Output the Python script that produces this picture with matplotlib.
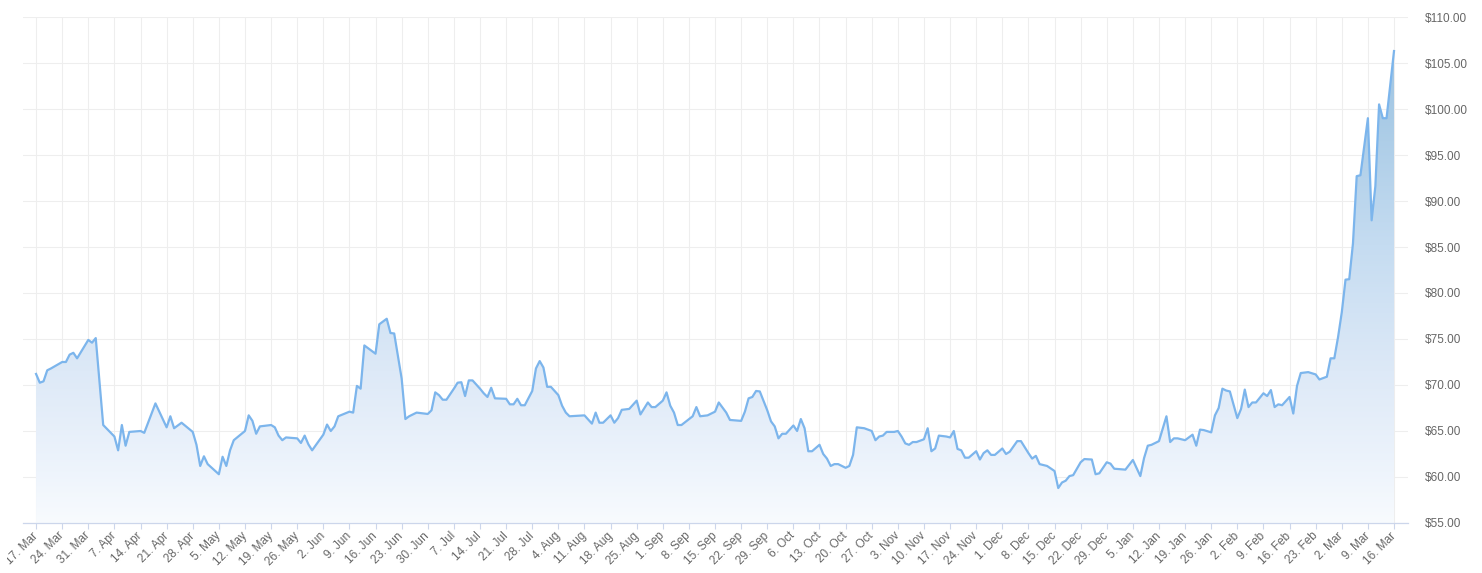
import matplotlib
matplotlib.use('Agg')
import matplotlib.pyplot as plt
import matplotlib.dates as mdates
from matplotlib.colors import LinearSegmentedColormap
from matplotlib.transforms import Bbox
import numpy as np
import pandas as pd

# days after 17 Mar 2025 and the closing price on that day
day_offsets = [
    0, 1, 2, 3, 4, 7, 8, 9, 10, 11, 14, 15, 16, 18, 21, 22, 23, 24, 25, 28,
    29, 32, 35, 36, 37, 39, 42, 43, 44, 45, 46, 49, 50, 51, 52, 53, 56, 57, 58, 59,
    60, 63, 64, 65, 66, 67, 70, 71, 72, 73, 74, 77, 78, 79, 80, 81, 84, 85, 86, 87,
    88, 91, 92, 94, 95, 96, 98, 99, 100, 102, 105, 106, 107, 108, 109, 110, 112, 113, 114, 115,
    116, 117, 119, 120, 121, 122, 123, 126, 127, 128, 129, 130, 131, 133, 134, 135, 136, 137, 138, 140,
    141, 142, 143, 147, 149, 150, 151, 152, 154, 155, 156, 157, 159, 161, 162, 164, 165, 166, 168, 169,
    170, 171, 172, 173, 176, 177, 178, 180, 182, 183, 185, 186, 189, 190, 191, 192, 193, 194, 196, 197,
    198, 199, 200, 201, 203, 204, 205, 206, 207, 208, 210, 211, 212, 213, 214, 215, 217, 218, 219, 220,
    222, 224, 225, 226, 227, 228, 230, 231, 232, 233, 234, 235, 236, 238, 239, 240, 241, 242, 244, 245,
    246, 247, 248, 249, 250, 252, 253, 254, 255, 256, 257, 258, 259, 260, 261, 263, 264, 266, 267, 268,
    269, 270, 271, 273, 274, 275, 276, 277, 278, 280, 281, 283, 284, 285, 287, 288, 289, 292, 294, 296,
    297, 298, 299, 301, 303, 304, 305, 306, 308, 310, 311, 312, 313, 315, 316, 317, 318, 319, 320, 322,
    323, 324, 325, 326, 327, 329, 330, 331, 332, 333, 334, 336, 337, 338, 339, 341, 343, 344, 346, 347,
    348, 349, 350, 351, 352, 353, 354, 355, 357, 358, 359, 360, 361, 362, 364,
]
prices = [
    71.2, 70.25, 70.4, 71.6, 71.8, 72.5, 72.5, 73.3, 73.5, 72.9, 74.9, 74.6, 75.1, 65.65, 64.4, 62.9, 65.65, 63.4, 64.9, 65.0,
    64.8, 68.0, 65.4, 66.6, 65.3, 65.9, 64.9, 63.5, 61.2, 62.25, 61.4, 60.3, 62.2, 61.2, 62.9, 64.0, 65.0, 66.7, 66.1, 64.7,
    65.5, 65.65, 65.4, 64.5, 64.0, 64.3, 64.2, 63.7, 64.5, 63.55, 62.9, 64.6, 65.7, 65.0, 65.5, 66.6, 67.1, 67.0, 69.9, 69.6,
    74.3, 73.4, 76.6, 77.2, 75.65, 75.6, 70.7, 66.3, 66.6, 67.0, 66.85, 67.25, 69.2, 68.9, 68.4, 68.4, 69.6, 70.25, 70.3, 68.8,
    70.5, 70.5, 69.6, 69.1, 68.7, 69.7, 68.55, 68.5, 67.9, 67.9, 68.5, 67.8, 67.8, 69.35, 71.8, 72.6, 71.9, 69.8, 69.8, 68.9,
    67.75, 67.0, 66.6, 66.7, 65.8, 67.0, 65.9, 65.9, 66.7, 65.9, 66.4, 67.3, 67.4, 68.3, 66.8, 68.1, 67.6, 67.6, 68.3, 69.2,
    67.75, 67.0, 65.65, 65.65, 66.6, 67.6, 66.6, 66.7, 67.1, 68.1, 67.0, 66.2, 66.1, 67.1, 68.55, 68.7, 69.35, 69.3, 67.25, 66.05,
    65.5, 64.2, 64.7, 64.7, 65.6, 65.0, 66.3, 65.3, 62.8, 62.8, 63.5, 62.5, 62.0, 61.2, 61.4, 61.4, 61.0, 61.2, 62.4, 65.4,
    65.3, 65.0, 64.0, 64.4, 64.5, 64.9, 64.9, 65.0, 64.4, 63.65, 63.5, 63.8, 63.8, 64.1, 65.3, 62.8, 63.1, 64.5, 64.4, 64.3,
    65.0, 63.05, 62.9, 62.1, 62.1, 62.8, 61.9, 62.6, 62.9, 62.4, 62.4, 62.75, 63.1, 62.5, 62.75, 63.9, 63.9, 62.6, 62.0, 62.3,
    61.4, 61.3, 61.2, 60.65, 58.8, 59.4, 59.6, 60.1, 60.2, 61.6, 61.95, 61.9, 60.3, 60.4, 61.6, 61.45, 60.9, 60.8, 61.85, 60.1,
    62.05, 63.4, 63.5, 63.9, 66.6, 63.8, 64.2, 64.2, 64.0, 64.6, 63.4, 65.15, 65.1, 64.85, 66.7, 67.5, 69.6, 69.4, 69.3, 66.4,
    67.4, 69.5, 67.6, 68.1, 68.1, 69.1, 68.8, 69.45, 67.6, 67.9, 67.8, 68.7, 66.9, 69.9, 71.3, 71.4, 71.15, 70.6, 70.9, 72.9,
    72.9, 75.2, 77.9, 81.45, 81.5, 85.4, 92.7, 92.8, 99.0, 87.9, 91.6, 100.5, 99.0, 99.0, 106.3,
]
start_date = '2025-03-17'
y_ticks = [55, 60, 65, 70, 75, 80, 85, 90, 95, 100, 105, 110]


def main():
    plt.rcParams['font.family'] = ['Liberation Sans', 'DejaVu Sans']

    dates = pd.Timestamp(start_date) + pd.to_timedelta(day_offsets, unit='D')
    x = mdates.date2num(dates.to_pydatetime())
    y = np.array(prices)

    fig = plt.figure(figsize=(14.82, 5.73), dpi=100)
    ax = fig.add_axes([23 / 1482, 1 - 523 / 573, (1408 - 23) / 1482, (523 - 17) / 573])

    x0, x1 = x[0] - 3.5, x[-1] + 3.75
    y0, y1 = y_ticks[0], y_ticks[-1]

    # gradient fill under the line
    cmap = LinearSegmentedColormap.from_list('area', [
        (0.0, '#f8fbfe'), (0.1, '#eef4fc'), (0.3, '#dde9f7'),
        (0.55, '#c5dcf1'), (0.8, '#a9cbe6'), (1.0, '#9cc3e2')])
    grad = np.linspace(0, 1, 256).reshape(-1, 1)
    poly = ax.fill_between(x, y, y0, color='none', lw=0)
    img = ax.imshow(grad, extent=[x0, x1, y0, y1], origin='lower', aspect='auto',
                    cmap=cmap, zorder=1, interpolation='bilinear')
    img.set_clip_path(poly.get_paths()[0], transform=ax.transData)

    ax.plot(x, y, color='#7cb5ec', lw=1.6, zorder=3, solid_joinstyle='round')

    ax.set_xlim(x0, x1)
    ax.set_ylim(y0, y1)

    week_ticks = pd.date_range(start_date, periods=53, freq='7D')
    ax.set_xticks(mdates.date2num(week_ticks.to_pydatetime()))
    ax.set_xticklabels([f'{d.day}. {d.strftime("%b")}' for d in week_ticks],
                       rotation=45, ha='right', va='center', rotation_mode='anchor')
    ax.set_yticks(y_ticks)
    ax.set_yticklabels([f'${v:.2f}' for v in y_ticks])

    ax.yaxis.tick_right()
    ax.tick_params(axis='y', length=0, pad=12, labelsize=8.5, labelcolor='#666666')
    ax.tick_params(axis='x', length=4, width=0.8, color='#ccd6eb', pad=4,
                   labelsize=8.5, labelcolor='#666666')

    # the first label runs past the left edge of the chart and is cut there
    first = ax.get_xticklabels()[0]
    first.set_clip_box(Bbox.from_extents(7, 0, 1482, 573))
    first.set_clip_on(True)

    ax.grid(True, color='#eeeeee', lw=0.8, zorder=0)
    ax.set_axisbelow(True)
    for side in ['top', 'left', 'right']:
        ax.spines[side].set_visible(False)
    ax.spines['bottom'].set_color('#ccd6eb')
    ax.spines['bottom'].set_linewidth(0.9)

    fig.savefig('out.png', dpi=100)


if __name__ == '__main__':
    main()
